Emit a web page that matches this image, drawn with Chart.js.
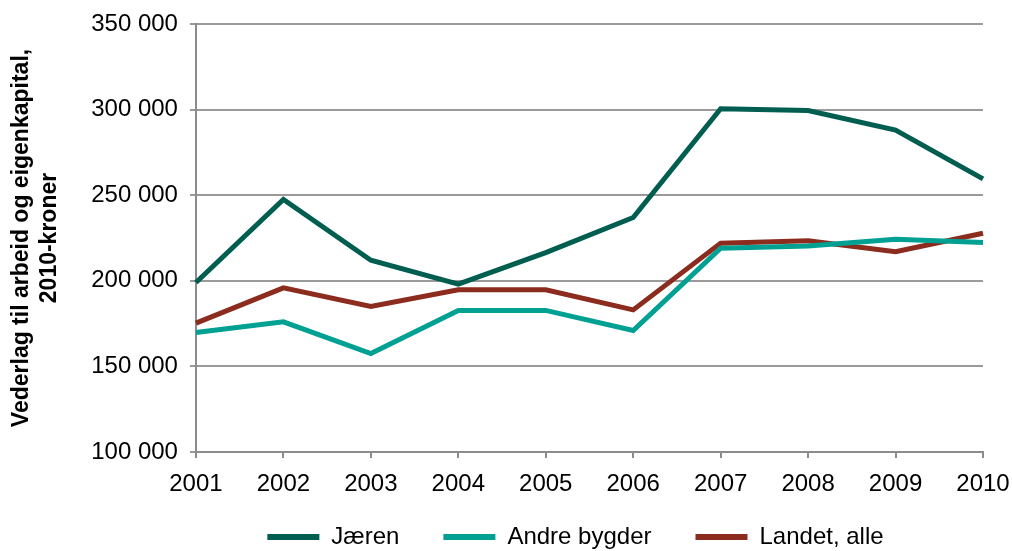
<!DOCTYPE html>
<html>
<head>
<meta charset="utf-8">
<script src="https://cdn.jsdelivr.net/npm/chart.js@4/dist/chart.umd.min.js"></script>
<style>
html,body{margin:0;padding:0;background:#fff;}
#wrap{width:1012px;height:551px;}
</style>
</head>
<body>
<div id="wrap"><canvas id="c" width="1012" height="551"></canvas></div>
<script>
const years = ['2001','2002','2003','2004','2005','2006','2007','2008','2009','2010'];
const jaeren = [199000, 247500, 212000, 198000, 216500, 237000, 300500, 299500, 288000, 259500];
const andreBygder = [169800, 176000, 157500, 182700, 182700, 171000, 219000, 220300, 224300, 222400];
const landetAlle = [175300, 195900, 185000, 194700, 194700, 183000, 222000, 223400, 217000, 227800];
const seriesNames = ['Jæren', 'Andre bygder', 'Landet, alle'];
const yTitle = ['Vederlag til arbeid og eigenkapital,', '2010-kroner'];

const colors = ['#005E50', '#00A092', '#8C2C1E'];
const font = '"Liberation Sans", Arial, sans-serif';

function fmt(v){ return String(v).replace(/\B(?=(\d{3})+(?!\d))/g, ' '); }

const layoutTweak = {
  id: 'layoutTweak',
  afterLayout(chart) {
    const lg = chart.legend;
    if (lg) {
      const a = chart.chartArea;
      const d = (a.left + a.right) / 2 - (lg.left + lg.right) / 2 - 14;
      lg.left += d; lg.right += d;
      if (lg.legendHitBoxes) lg.legendHitBoxes.forEach(h => { h.left += d; });
    }
    const xs = chart.scales.x;
    if (xs) xs.bottom = chart.height;
  }
};

new Chart(document.getElementById('c'), {
  type: 'line',
  data: {
    labels: years,
    datasets: [jaeren, andreBygder, landetAlle].map((d, i) => ({
      label: seriesNames[i],
      data: d,
      borderColor: colors[i],
      backgroundColor: colors[i],
      borderWidth: 5,
      pointRadius: 0,
      tension: 0,
      borderCapStyle: 'butt',
      borderJoinStyle: 'miter'
    }))
  },
  plugins: [layoutTweak],
  options: {
    responsive: false,
    animation: false,
    layout: { padding: { left: 8, right: 29, top: 24, bottom: -8 } },
    plugins: {
      legend: {
        position: 'bottom',
        labels: {
          font: { family: font, size: 24 },
          color: '#000',
          boxWidth: 52,
          boxHeight: 6,
          padding: 44,
          generateLabels(chart) {
            return chart.data.datasets.map((ds, i) => ({
              text: ds.label,
              fillStyle: ds.borderColor,
              strokeStyle: ds.borderColor,
              lineWidth: 0,
              fontColor: '#000',
              datasetIndex: i,
              hidden: false
            }));
          }
        }
      },
      tooltip: { enabled: false }
    },
    scales: {
      x: {
        type: 'category',
        offset: false,
        grid: { display: true, drawOnChartArea: false, drawTicks: true, tickLength: 6, color: '#8c8c8c', lineWidth: 2 },
        border: { color: '#8c8c8c', width: 2 },
        ticks: { font: { family: font, size: 24 }, color: '#000', maxRotation: 0, padding: 12 },
        afterFit(scale) { scale.paddingRight = 0; scale.paddingLeft = 0; scale.height = 29; }
      },
      y: {
        min: 100000,
        max: 350000,
        grid: { color: '#9a9a9a', lineWidth: 2, tickLength: 6, drawTicks: true },
        border: { color: '#8c8c8c', width: 2 },
        ticks: { stepSize: 50000, font: { family: font, size: 24 }, color: '#000', padding: 12, callback: v => fmt(v) },
        title: { display: true, text: yTitle, font: { family: font, size: 23, weight: 'bold' }, color: '#000', padding: { top: 0, bottom: 16 } },
        afterFit(scale) { scale.paddingTop = 0; scale.paddingBottom = 0; }
      }
    }
  }
});
</script>
</body>
</html>
